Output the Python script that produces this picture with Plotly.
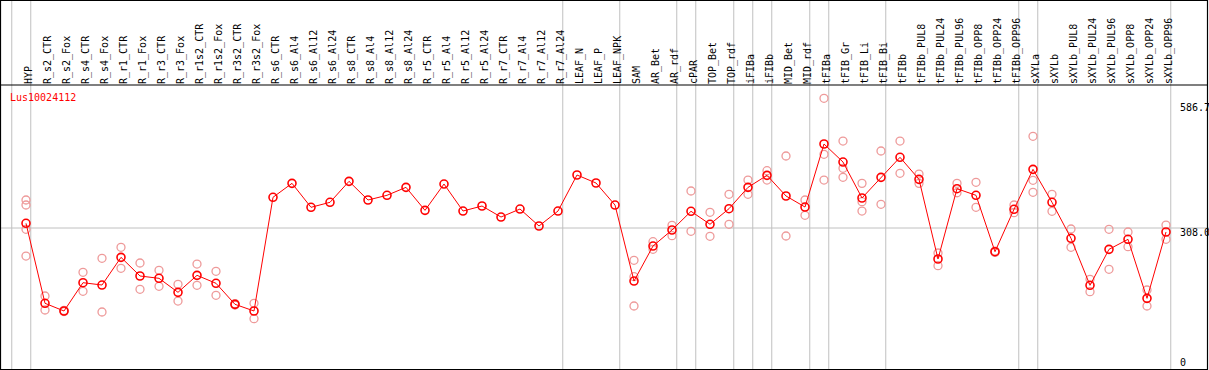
import plotly.graph_objects as go

title = "Lus10024112"

labels = ["HYP", "R_s2_CTR", "R_s2_Fox", "R_s4_CTR", "R_s4_Fox", "R_r1_CTR", "R_r1_Fox",
          "R_r3_CTR", "R_r3_Fox", "R_r1s2_CTR", "R_r1s2_Fox", "R_r3s2_CTR", "R_r3s2_Fox",
          "R_s6_CTR", "R_s6_Al4", "R_s6_Al12", "R_s6_Al24", "R_s8_CTR", "R_s8_Al4", "R_s8_Al12",
          "R_s8_Al24", "R_r5_CTR", "R_r5_Al4", "R_r5_Al12", "R_r5_Al24", "R_r7_CTR", "R_r7_Al4",
          "R_r7_Al12", "R_r7_Al24", "LEAF_N", "LEAF_P", "LEAF_NPK", "SAM", "AR_Bet", "AR_rdf",
          "cPAR", "TOP_Bet", "TOP_rdf", "iFIBa", "iFIBb", "MID_Bet", "MID_rdf", "tFIBa",
          "tFIB_Gr", "tFIB_Li", "tFIB_Bi", "tFIBb", "tFIBb_PUL8", "tFIBb_PUL24", "tFIBb_PUL96",
          "tFIBb_OPP8", "tFIBb_OPP24", "tFIBb_OPP96", "sXYLa", "sXYLb", "sXYLb_PUL8",
          "sXYLb_PUL24", "sXYLb_PUL96", "sXYLb_OPP8", "sXYLb_OPP24", "sXYLb_OPP96"]

means = [318.1, 146.2, 129.7, 190.5, 185.5, 245.0, 204.9, 199.9, 169.8, 206.3, 189.2, 144.0, 129.7,
         374.0, 404.0, 352.5, 363.2, 408.3, 368.2, 378.3, 395.4, 346.0, 402.5, 344.5, 355.3,
         331.6, 348.8, 312.3, 344.5,
         421.9, 404.7, 357.4,
         194.1, 269.3, 303.7, 343.9, 316.0, 349.5, 395.4, 421.2, 376.8, 353.1,
         488.5, 449.8, 372.5, 416.9, 459.9,
         412.6, 241.4, 392.4, 378.3, 257.1, 348.2,
         434.1, 363.2, 285.9, 184.9, 262.2, 283.7, 156.9, 299.4]

replicates = [
    [368.2, 357.4, 305.2, 247.8],
    [161.9, 131.8],
    [131.0, 128.5],
    [212.8, 172.0],
    [242.9, 127.5],
    [266.5, 221.4],
    [232.8, 176.3],
    [217.1, 182.7],
    [187.0, 151.1],
    [230.6, 184.9],
    [215.0, 163.4],
    [145.5, 142.5],
    [146.2, 113.1],
    [], [], [], [], [], [], [], [], [], [], [], [], [], [], [], [],
    [], [], [],
    [238.6, 203.4, 140.4],
    [278.6, 262.2],
    [313.8, 291.5],
    [387.5, 300.9],
    [341.7, 290.2],
    [380.4, 316.0],
    [411.1, 380.4],
    [431.1, 411.1],
    [462.7, 290.8],
    [368.2, 335.3],
    [586.7, 466.4, 411.1],
    [494.9, 436.3, 416.9],
    [404.0, 364.5, 344.5],
    [473.5, 358.9],
    [494.9, 425.5],
    [424.0, 404.0],
    [254.3, 227.0],
    [404.0, 383.8],
    [406.2, 352.5],
    [258.5, 255.5],
    [357.4, 340.9],
    [505.0, 410.5, 384.7],
    [380.4, 343.9],
    [305.9, 266.5],
    [197.8, 171.1],
    [305.2, 219.3],
    [299.4, 267.8],
    [174.8, 140.4],
    [314.4, 283.7],
]

# indices of the last column of each group (separator drawn just after)
group_ends = [-1, 0, 28, 31, 34, 35, 37, 38, 39, 41, 42, 45, 52, 53, 60]

axis_values = [586.7, 308.0, 0]
axis_texts = ["586.7", "308.0", "0"]

W, H = 1209, 370
FONT = "DejaVu Sans Mono"

xs = list(range(len(labels)))
rep_x, rep_y = [], []
for i, reps in enumerate(replicates):
    for v in reps:
        rep_x.append(i)
        rep_y.append(v)

fig = go.Figure()
fig.add_trace(go.Scatter(
    x=rep_x, y=rep_y, mode="markers",
    marker=dict(symbol="circle-open", size=8, color="#ee9a9a", line=dict(width=1.3)),
    hoverinfo="skip", showlegend=False, cliponaxis=False))
fig.add_trace(go.Scatter(
    x=xs, y=means, mode="lines+markers",
    line=dict(color="#ff0000", width=1),
    marker=dict(symbol="circle-open", size=8, color="#ff0000", line=dict(width=1.6)),
    showlegend=False, cliponaxis=False))

plot_top_px = 85
ydom_top = (H - plot_top_px) / H

shapes = []
for k in group_ends:
    shapes.append(dict(type="line", xref="x", yref="paper", x0=k + 0.25, x1=k + 0.25,
                       y0=0, y1=1, line=dict(color="#c0c0c0", width=1), layer="below"))
shapes.append(dict(type="line", xref="paper", yref="y", x0=0, x1=1, y0=axis_values[1],
                   y1=axis_values[1], line=dict(color="#c0c0c0", width=1), layer="below"))
shapes.append(dict(type="line", xref="paper", yref="paper", x0=0, x1=1207.5 / W,
                   y0=ydom_top, y1=ydom_top, line=dict(color="black", width=1.2)))
shapes.append(dict(type="rect", xref="paper", yref="paper", x0=0.5 / W, x1=1207.5 / W,
                   y0=0.5 / H, y1=1 - 0.5 / H, line=dict(color="black", width=1.2)))

annotations = [
    dict(text=title, xref="paper", yref="paper", x=8 / W, y=1 - 97 / H, xanchor="left",
         yanchor="middle", showarrow=False, font=dict(family=FONT, size=10, color="#ff0000")),
    dict(text=axis_texts[0], xref="paper", yref="y", x=1178 / W, y=axis_values[0],
         xanchor="left", yanchor="middle", yshift=-9, showarrow=False,
         font=dict(family=FONT, size=10, color="black")),
    dict(text=axis_texts[1], xref="paper", yref="y", x=1178 / W, y=axis_values[1],
         xanchor="left", yanchor="middle", yshift=-4.5, showarrow=False,
         font=dict(family=FONT, size=10, color="black")),
    dict(text=axis_texts[2], xref="paper", yref="y domain", x=1178 / W, y=0,
         xanchor="left", yanchor="middle", yshift=8, showarrow=False,
         font=dict(family=FONT, size=10, color="black")),
]

x0 = -26 / 19
x1 = (W - 26) / 19

fig.update_layout(
    width=W, height=H,
    margin=dict(l=0, r=0, t=0, b=0),
    paper_bgcolor="white", plot_bgcolor="white",
    showlegend=False,
    xaxis=dict(range=[x0, x1], side="top", tickmode="array", tickvals=xs, ticktext=labels,
               tickangle=-90, ticks="", showgrid=False, zeroline=False, showline=False,
               ticklabelshift=3,
               tickfont=dict(family=FONT, size=10, color="black"), anchor="y", fixedrange=True),
    yaxis=dict(range=[2.9, 615.3], domain=[0, ydom_top], showticklabels=False, ticks="",
               showgrid=False, zeroline=False, showline=False, fixedrange=True),
    shapes=shapes,
    annotations=annotations,
)

fig.write_html("out.html", config={"displayModeBar": False},
               post_script="document.body.style.margin='0';document.body.style.overflow='hidden';")
